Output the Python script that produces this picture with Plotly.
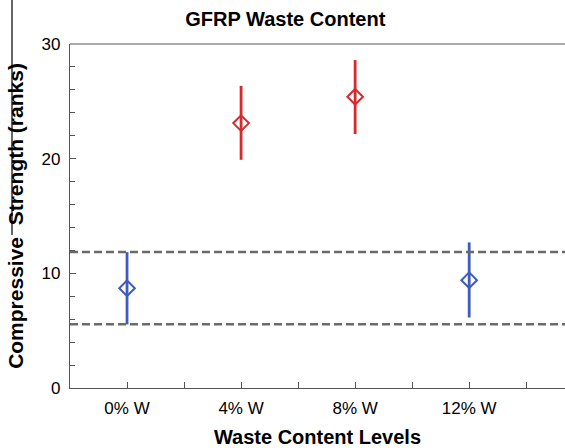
import plotly.graph_objects as go

categories = ["0% W", "4% W", "8% W", "12% W"]
x_pos = [0, 1, 2, 3]
red_idx = [1, 2]
blue_idx = [0, 3]
means = [8.7, 23.1, 25.4, 9.4]
lower = [5.55, 19.9, 22.15, 6.15]
upper = [11.85, 26.35, 28.6, 12.7]
ref_lines = [5.55, 11.85]

RED = "#d42a2e"
BLUE = "#3f5cbc"
FONT = "Liberation Sans, Arial, sans-serif"

fig = go.Figure()
for idx, col in [(blue_idx, BLUE), (red_idx, RED)]:
    fig.add_trace(go.Scatter(
        x=[x_pos[i] for i in idx],
        y=[means[i] for i in idx],
        mode="markers",
        marker=dict(symbol="diamond-open", size=12, color=col, line=dict(width=2, color=col)),
        error_y=dict(type="data", symmetric=False,
                     array=[upper[i] - means[i] for i in idx],
                     arrayminus=[means[i] - lower[i] for i in idx],
                     color=col, thickness=2.8, width=0),
        showlegend=False,
    ))

for v in ref_lines:
    fig.add_hline(y=v, line=dict(color="#6a6a6a", width=2.5, dash="8px,4px"))

fig.update_layout(
    width=565, height=448,
    margin=dict(l=70, r=0, t=44, b=60),
    paper_bgcolor="white", plot_bgcolor="white",
    font=dict(family=FONT, color="black"),
    title=dict(text="<b>GFRP Waste Content</b>", x=0.505, xref="container", xanchor="center",
               y=1 - 19 / 448, yanchor="middle", font=dict(size=20, family=FONT, color="black")),
    xaxis=dict(range=[-0.5, 3.84], tickvals=x_pos, ticktext=categories,
               showline=True, linecolor="#555", linewidth=1.2, mirror=False,
               ticks="inside", ticklen=6, tickcolor="#555",
               minor=dict(tick0=-0.5, dtick=1, ticks="inside", ticklen=6, tickcolor="#555"),
               showgrid=False, zeroline=False, ticklabelstandoff=4,
               tickfont=dict(size=17, family=FONT, color="black"),
               title=dict(text="<b>Waste Content Levels</b>", font=dict(size=20, family=FONT, color="black"),
                          standoff=13)),
    yaxis=dict(range=[0, 30], dtick=10, showline=True, linecolor="#555", linewidth=1.2,
               ticks="inside", ticklen=6, tickcolor="#555",
               minor=dict(dtick=2, ticks="inside", ticklen=5, tickcolor="#555"),
               showgrid=False, zeroline=False, ticklabelstandoff=5,
               tickfont=dict(size=17, family=FONT, color="black"),
               title=dict(text="<b>Compressive  Strength (ranks)</b>", font=dict(size=21, family=FONT, color="black"),
                          standoff=12)),
)
# top border line
fig.add_shape(type="line", xref="paper", yref="paper", x0=0, x1=1, y0=1, y1=1,
              line=dict(color="#555", width=1.2))
# left edge line
fig.add_shape(type="line", xref="paper", yref="paper", x0=-58 / 495, x1=-58 / 495,
              y0=388 / 344, y1=(388 - 235) / 344, line=dict(color="black", width=1.2))

fig.write_html("out.html", config={"displayModeBar": False},
               post_script="document.body.style.margin='0';")
